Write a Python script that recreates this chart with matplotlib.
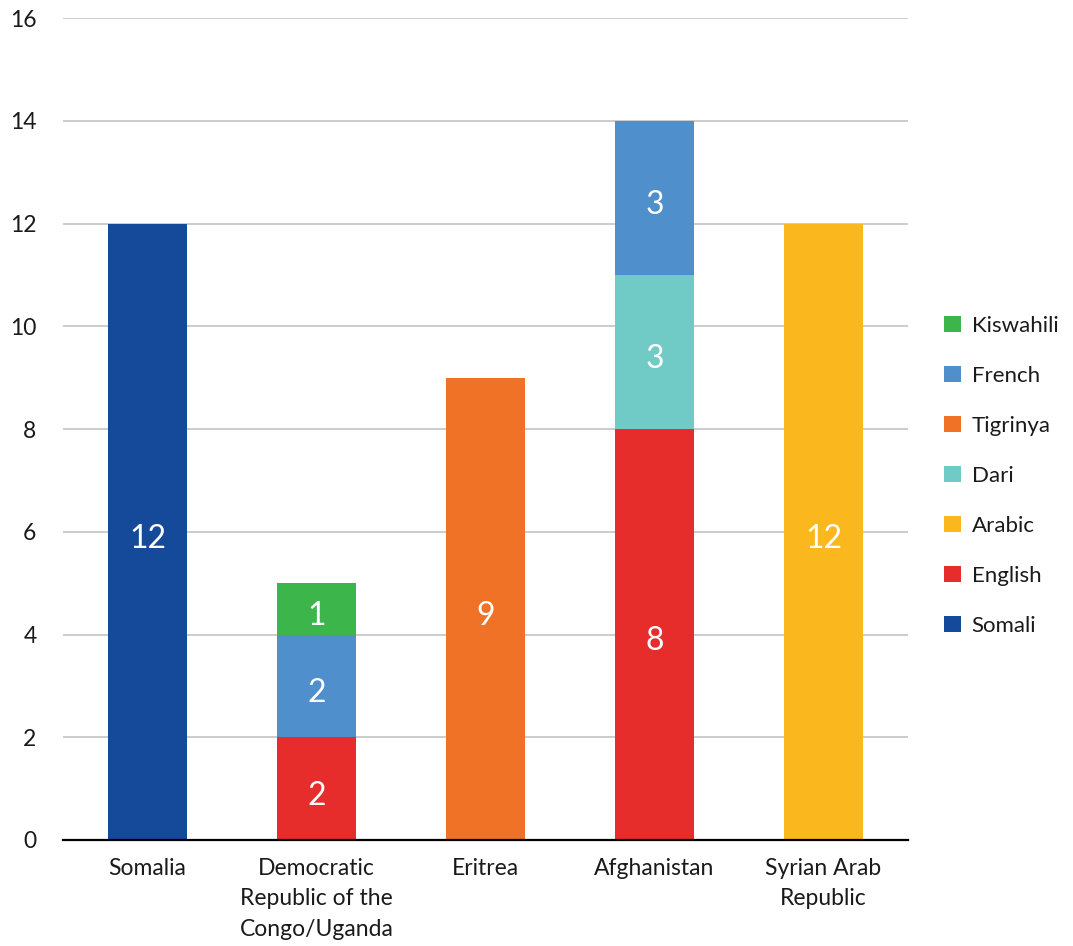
import matplotlib.pyplot as plt
import numpy as np

plt.rcParams['font.family'] = ['Lato', 'DejaVu Sans']

# Data
countries = ['Somalia', 'Democratic\nRepublic of the\nCongo/Uganda', 'Eritrea', 'Afghanistan', 'Syrian Arab\nRepublic']
somali = [12, 0, 0, 0, 0]
english = [0, 2, 0, 8, 0]
arabic = [0, 0, 0, 0, 12]
dari = [0, 0, 0, 3, 0]
tigrinya = [0, 0, 9, 0, 0]
french = [0, 2, 0, 3, 0]
kiswahili = [0, 1, 0, 0, 0]

series = [('Somali', somali, '#154A9A'),
          ('English', english, '#E72D2C'),
          ('Arabic', arabic, '#FBB71E'),
          ('Dari', dari, '#70CAC5'),
          ('Tigrinya', tigrinya, '#F07226'),
          ('French', french, '#4F8FCC'),
          ('Kiswahili', kiswahili, '#3CB54A')]

fig = plt.figure(figsize=(10.73, 9.46), dpi=100)
ax = fig.add_axes([63/1073, 1 - 840/946, (908 - 63)/1073, (840 - 18)/946])

x = np.arange(len(countries))
bottom = np.zeros(len(countries))
handles = []
for name, vals, color in series:
    vals = np.array(vals, dtype=float)
    bars = ax.bar(x, vals, 0.467, bottom=bottom, color=color, label=name, zorder=3)
    handles.append(bars)
    # value labels sit a little below the segment middle, like the original
    for xi, v, b in zip(x, vals, bottom):
        if v > 0:
            ax.annotate(f'{int(v)}', (xi, b + v / 2), xytext=(0, -5),
                        textcoords='offset points', ha='center', va='center',
                        color='white', fontsize=23, zorder=4)
    bottom += vals

ax.set_xlim(-0.5, 4.5)
ax.set_ylim(0, 16)
ax.set_yticks(range(0, 17, 2))
ax.set_xticks(x)
ax.set_xticklabels(countries, fontsize=16.5, linespacing=1.55, color='#1a1a1a')
ax.tick_params(axis='y', length=0, pad=19, labelsize=16.5, labelcolor='#1a1a1a')
ax.tick_params(axis='x', length=0, pad=13)
ax.grid(axis='y', color='#C8C8C8', linewidth=1.3, zorder=0)
for s in ['top', 'right', 'left']:
    ax.spines[s].set_visible(False)
ax.spines['bottom'].set_linewidth(1.6)
ax.spines['bottom'].set_zorder(5)

leg = fig.legend(handles[::-1], [s[0] for s in series][::-1],
                 loc='center left', bbox_to_anchor=(944/1073, 1 - 476/946),
                 frameon=False, fontsize=16, handlelength=0.75, handleheight=0.75,
                 handletextpad=0.5, labelspacing=1.35, borderpad=0, borderaxespad=0)
for t in leg.get_texts():
    t.set_color('#1a1a1a')

fig.savefig('out.png', dpi=100)
